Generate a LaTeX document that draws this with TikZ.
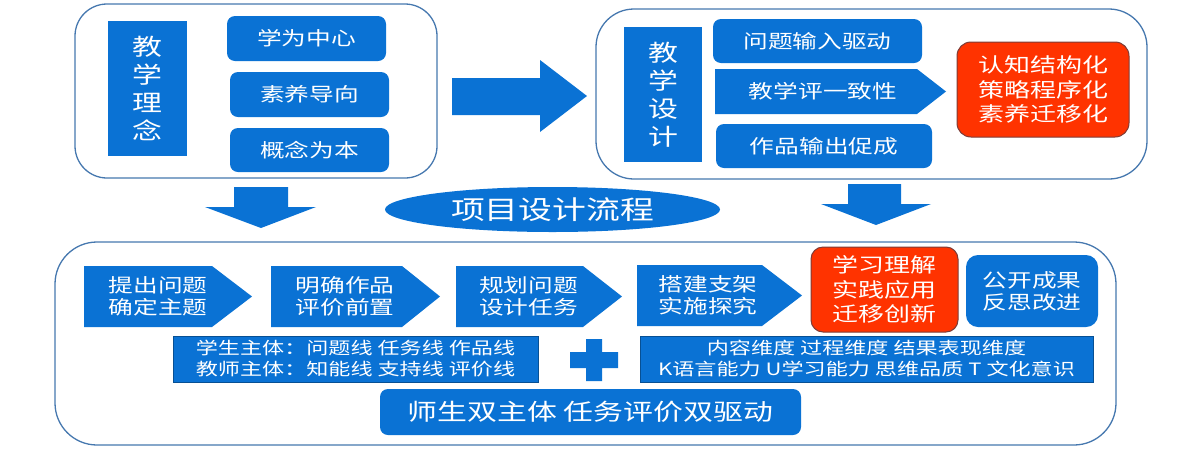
\documentclass[tikz,border=0pt]{standalone}
\usepackage{fontspec}
\setmainfont{Noto Sans CJK SC}[FakeStretch=1.3]
\usetikzlibrary{shapes.geometric}
\definecolor{bblue}{RGB}{10,114,212}
\definecolor{rred}{RGB}{255,51,0}
\definecolor{framec}{RGB}{70,120,175}
\definecolor{rborder}{RGB}{125,60,55}
\begin{document}
\begin{tikzpicture}[x=1pt,y=-1pt,
  cont/.style={draw=framec, line width=1.3pt, fill=white, inner sep=0pt},
  vbox/.style={fill=bblue, text=white, inner sep=0pt, align=center, font=\fontsize{23}{28}\selectfont},
  rbox/.style={fill=bblue, text=white, rounded corners=8pt, inner sep=0pt, align=center, font=\fontsize{19}{22}\selectfont},
  redbox/.style={fill=rred, draw=rborder, line width=1pt, text=white, rounded corners=14pt, inner sep=0pt, align=center, font=\fontsize{20}{24.5}\selectfont},
  chevtext/.style={text=white, inner sep=0pt, align=center, font=\fontsize{19}{22}\selectfont},
  tbox/.style={fill=bblue, draw=bblue!70!black, line width=0.5pt, text=white, inner sep=0pt, align=center, font=\fontsize{17}{21}\selectfont},
  blockarrow/.style={fill=bblue}
]
\useasboundingbox (0,0) rectangle (1200,448);

% containers
\node[cont, rounded corners=32pt, minimum width=362, minimum height=174] (c1) at (256,91) {};
\node[cont, rounded corners=38pt, minimum width=551, minimum height=170] (c2) at (871.5,94) {};
\node[cont, rounded corners=42pt, minimum width=1061, minimum height=203] (c3) at (585.5,343.5) {};

% top-left
\node[vbox, minimum width=79, minimum height=135] (ln) at (147.5,88.5) {教\\学\\理\\念};
\node[rbox, minimum width=159, minimum height=45] (a1) at (306.5,38.5) {学为中心};
\node[rbox, minimum width=159, minimum height=45] (a2) at (309.5,94.5) {素养导向};
\node[rbox, minimum width=159, minimum height=44] (a3) at (309.5,150) {概念为本};

% big right arrow
\path[blockarrow] (452,78) -- (540,78) -- (540,60) -- (587,96) -- (540,132) -- (540,115) -- (452,115) -- cycle;

% top-right
\node[vbox, minimum width=78, minimum height=135] (sj) at (663,94.5) {教\\学\\设\\计};
\node[rbox, minimum width=209, minimum height=44] (b1) at (817.5,41) {问题输入驱动};
\path[blockarrow] (715,69) -- (917,69) -- (946,91.5) -- (917,114) -- (715,114) -- cycle;
\node[chevtext] (b2) at (823,91.5) {教学评一致性};
\node[rbox, minimum width=216, minimum height=44] (b3) at (824,146) {作品输出促成};
\node[redbox, minimum width=172, minimum height=95] (r1) at (1043,89.5) {认知结构化\\策略程序化\\素养迁移化};

% down arrows
\path[blockarrow] (234,187) -- (288,187) -- (288,207) -- (316,207) -- (261,228) -- (205,207) -- (234,207) -- cycle;
\path[blockarrow] (848,184) -- (901,184) -- (901,204) -- (931,204) -- (876,225) -- (821,204) -- (848,204) -- cycle;

% ellipse title
\node[ellipse, fill=bblue, text=white, inner sep=0pt, minimum width=335, minimum height=45, font=\fontsize{26}{30}\selectfont] (title) at (552.5,209.5) {项目设计流程};

% chevrons
\path[blockarrow] (84,266) -- (212,266) -- (252,296.5) -- (212,327) -- (84,327) -- cycle;
\node[chevtext] (p1) at (158,296.5) {提出问题\\确定主题};
\path[blockarrow] (271,266) -- (402,266) -- (440,296.5) -- (402,327) -- (271,327) -- cycle;
\node[chevtext] (p2) at (345,296.5) {明确作品\\评价前置};
\path[blockarrow] (456,266) -- (583,266) -- (622,296.5) -- (583,327) -- (456,327) -- cycle;
\node[chevtext] (p3) at (528.5,296.5) {规划问题\\设计任务};
\path[blockarrow] (637,265) -- (762,265) -- (802,295.5) -- (762,326) -- (637,326) -- cycle;
\node[chevtext] (p4) at (708,295.5) {搭建支架\\实施探究};
\node[redbox, rounded corners=12pt, minimum width=147, minimum height=85] (p5) at (884.5,289.5) {学习理解\\实践应用\\迁移创新};
\node[rbox, rounded corners=12pt, minimum width=132, minimum height=72] (p6) at (1032,291) {公开成果\\反思改进};

% text boxes
\node[tbox, minimum width=365, minimum height=46] (s1) at (355.5,359) {学生主体：问题线 任务线 作品线\\教师主体：知能线 支持线 评价线};
\node[tbox, minimum width=453, minimum height=46] (s2) at (866.5,359) {内容维度 过程维度 结果表现维度\\K语言能力 U学习能力 思维品质 T 文化意识};

% plus
\path[blockarrow] (586,339) -- (602,339) -- (602,352) -- (618,352) -- (618,368) -- (602,368) -- (602,381) -- (586,381) -- (586,368) -- (570,368) -- (570,352) -- (586,352) -- cycle;

% bottom box
\node[rbox, minimum width=421, minimum height=46, font=\fontsize{23}{27}\selectfont] (dd) at (590.5,412) {师生双主体 任务评价双驱动};
\end{tikzpicture}
\end{document}
